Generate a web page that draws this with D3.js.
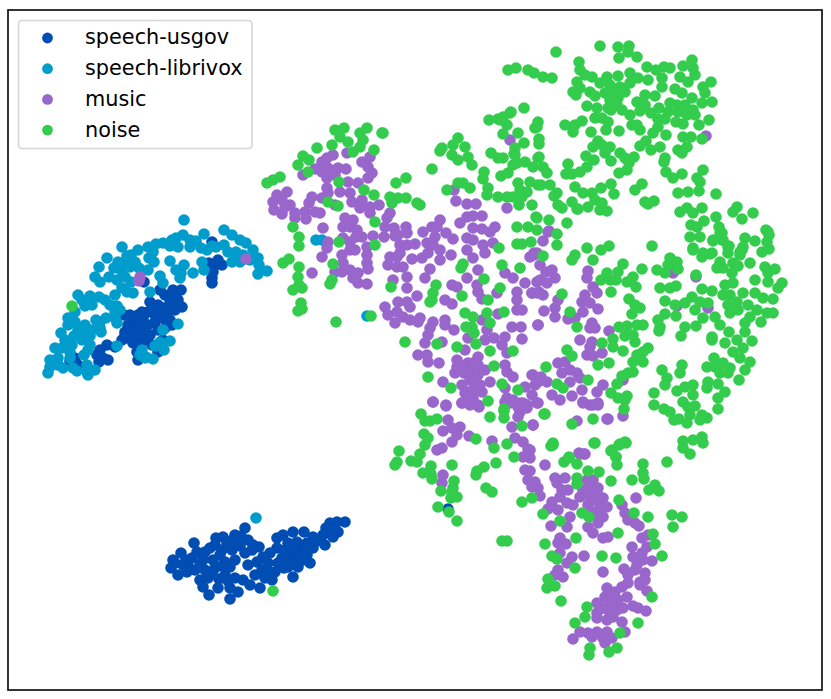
<!DOCTYPE html>
<html><head><meta charset="utf-8">
<script src="https://cdn.jsdelivr.net/npm/d3@7/dist/d3.min.js"></script>
<style>html,body{margin:0;padding:0;background:#fff}svg{display:block}text{font-family:"DejaVu Sans",sans-serif}</style>
</head><body><svg id="c" width="831" height="699"></svg>
<script>
const labels = ["speech-usgov","speech-librivox","music","noise"];
const colors = ["#004DB3","#009DCC","#9966CC","#33CC4D"];
const usgov = [[212,242],[218,260],[209,263],[215,265],[222,265],[213,272],[212,278],[212,283],[144,282],[173,290],[181,290],[178,300],[165,295],[160,290],[170,303],[182,307],[175,310],[168,312],[150,302],[158,305],[148,312],[155,315],[142,312],[130,315],[124,315],[128,325],[135,320],[140,323],[148,325],[155,322],[162,318],[170,320],[165,328],[172,325],[145,330],[150,335],[158,330],[135,330],[125,332],[122,340],[128,338],[135,338],[145,340],[152,345],[163,340],[125,335],[133,343],[140,345],[137,352],[138,360],[158,352],[75,358],[73,366],[70,361],[78,365],[100,350],[107,345],[115,347],[97,355],[103,358],[99,362],[108,360],[143,318],[152,310],[163,308],[175,298],[168,296],[160,312],[147,336],[141,333],[131,327],[138,315],
[345,522],[337,522],[330,523],[326,528],[330,530],[338,532],[323,535],[333,537],[325,545],[313,537],[304,532],[293,532],[283,535],[277,538],[297,542],[307,543],[313,548],[300,550],[290,553],[277,548],[270,553],[263,557],[282,558],[297,558],[307,555],[310,563],[298,567],[288,567],[293,577],[278,563],[268,563],[257,562],[259,547],[245,528],[235,535],[223,537],[216,538],[215,545],[227,543],[237,542],[248,540],[194,543],[205,552],[220,555],[232,550],[245,553],[235,560],[225,562],[213,560],[203,560],[181,553],[173,560],[171,568],[178,575],[183,565],[192,558],[187,572],[195,570],[205,570],[215,568],[200,580],[208,578],[218,588],[209,595],[203,587],[225,575],[235,578],[230,588],[230,599],[238,592],[243,580],[250,585],[260,588],[255,575],[265,578],[272,580],[267,570],[275,572],[285,550],[293,547],[222,550],[230,567],[175,563],[186,560],[197,552],[210,548],[240,546],[252,550],[248,565],[262,570],[241,536],[231,541],[253,545],[222,566],[212,573],[219,579],[228,581],[200,565],[188,566],[284,568],[291,560],[303,560],[317,541],[288,543],[305,548],[448,509]];
const librivox = [[184,220],[224,230],[204,234],[232,235],[240,240],[246,243],[253,250],[258,258],[267,271],[258,274],[259,265],[172,240],[176,238],[183,235],[190,240],[196,241],[201,248],[190,247],[178,247],[170,246],[163,243],[156,244],[148,247],[153,252],[149,258],[154,262],[122,247],[127,256],[138,250],[131,255],[118,262],[125,262],[135,262],[107,258],[99,267],[114,268],[121,270],[130,267],[139,268],[148,270],[170,261],[176,270],[181,273],[184,265],[180,278],[193,273],[202,262],[204,270],[207,250],[216,247],[224,245],[228,252],[236,252],[243,255],[232,262],[240,262],[250,260],[236,258],[212,246],[95,277],[100,282],[109,277],[117,280],[125,277],[122,288],[131,282],[127,292],[160,276],[163,283],[133,293],[150,292],[78,295],[90,296],[92,305],[99,297],[105,300],[115,295],[110,305],[115,312],[106,318],[115,318],[120,310],[85,306],[82,300],[75,312],[117,306],[68,318],[75,322],[85,325],[96,320],[92,330],[100,328],[78,330],[68,325],[74,336],[82,340],[90,345],[100,322],[117,323],[178,324],[117,346],[61,333],[65,340],[72,345],[77,335],[84,333],[90,336],[101,332],[55,348],[62,348],[70,352],[58,358],[84,355],[88,350],[50,360],[48,373],[50,367],[58,365],[63,368],[57,362],[70,358],[73,368],[77,371],[87,365],[88,375],[95,370],[87,372],[163,330],[170,341],[160,342],[164,350],[155,346],[142,350],[145,358],[153,359],[146,357],[140,355],[316,240],[322,240],[256,518],[367,316]];
const music = [[139,281],[140,277],[246,259],[510,140],[347,153],[370,157],[333,155],[327,158],[322,162],[362,162],[368,167],[372,173],[368,178],[303,175],[315,169],[322,172],[328,168],[338,168],[346,169],[327,178],[335,175],[348,182],[358,183],[327,188],[328,193],[340,192],[350,193],[322,198],[312,197],[309,203],[335,205],[352,202],[362,200],[360,208],[370,207],[379,205],[370,213],[390,213],[387,218],[277,195],[287,192],[273,202],[282,200],[290,205],[274,210],[282,214],[285,207],[295,213],[295,218],[305,212],[306,219],[315,212],[320,213],[323,228],[345,218],[353,220],[343,227],[350,227],[357,230],[356,237],[362,237],[373,236],[384,237],[385,227],[394,228],[395,236],[343,238],[328,242],[327,248],[322,257],[350,242],[350,250],[355,250],[367,247],[367,255],[367,263],[368,269],[342,255],[343,263],[335,272],[342,272],[350,270],[358,273],[353,278],[358,283],[367,284],[312,273],[406,227],[407,233],[398,235],[423,232],[432,227],[440,220],[437,227],[446,233],[435,237],[427,243],[433,245],[453,239],[440,250],[467,238],[473,240],[460,223],[467,217],[473,216],[482,216],[473,228],[482,229],[490,232],[495,227],[454,190],[456,201],[467,204],[476,204],[507,208],[400,245],[415,244],[407,245],[400,253],[390,257],[397,257],[388,265],[397,267],[403,267],[407,277],[393,280],[412,259],[422,258],[428,253],[440,260],[451,255],[430,269],[425,278],[407,288],[467,250],[473,258],[478,270],[483,245],[493,243],[485,253],[530,257],[537,253],[452,285],[457,287],[467,278],[477,285],[478,292],[482,299],[497,293],[505,273],[513,278],[525,283],[517,292],[517,300],[532,293],[539,292],[537,282],[522,310],[517,310],[445,300],[452,304],[417,296],[407,302],[398,302],[410,307],[385,307],[388,315],[397,312],[403,317],[395,323],[410,320],[420,318],[418,322],[433,322],[445,320],[445,325],[430,328],[428,335],[454,330],[442,342],[425,343],[418,355],[427,355],[428,362],[439,363],[482,320],[487,330],[498,314],[468,338],[485,340],[494,338],[505,337],[512,327],[521,327],[538,325],[522,339],[502,345],[507,353],[465,350],[505,365],[507,372],[513,377],[457,360],[460,365],[468,363],[478,357],[478,365],[485,370],[470,372],[455,373],[478,375],[462,385],[470,380],[480,385],[490,382],[468,392],[482,392],[473,398],[467,402],[462,403],[478,405],[443,382],[433,402],[446,405],[457,367],[473,363],[464,373],[475,383],[465,393],[473,390],[505,388],[507,398],[513,400],[523,403],[525,387],[532,375],[538,382],[518,407],[706,136],[549,231],[543,241],[534,255],[548,232],[534,253],[540,265],[546,272],[552,270],[555,278],[540,280],[547,283],[532,293],[543,295],[537,293],[558,300],[555,308],[544,311],[555,317],[538,325],[568,319],[575,318],[588,271],[587,278],[593,287],[597,293],[585,295],[582,302],[590,303],[598,309],[583,312],[592,323],[590,328],[595,328],[609,331],[580,340],[592,342],[587,355],[593,356],[602,353],[590,347],[673,273],[696,277],[677,306],[708,308],[558,363],[565,362],[562,373],[570,370],[577,373],[570,382],[580,378],[533,375],[541,377],[547,382],[535,385],[532,395],[552,395],[560,400],[572,396],[582,390],[597,392],[603,385],[583,402],[590,405],[598,403],[538,403],[577,421],[607,419],[623,416],[623,380],[533,425],[580,454],[585,454],[530,450],[433,402],[446,406],[462,403],[470,405],[479,407],[448,420],[443,431],[452,428],[460,427],[457,435],[452,442],[469,436],[437,450],[442,448],[443,475],[442,483],[492,441],[512,427],[533,425],[515,438],[523,442],[528,449],[523,457],[530,458],[545,465],[525,470],[530,471],[528,480],[535,482],[532,487],[538,488],[540,496],[608,419],[579,453],[584,454],[555,478],[565,478],[557,483],[568,490],[562,490],[560,497],[552,502],[548,509],[558,510],[567,503],[573,505],[570,517],[567,527],[551,526],[587,480],[593,480],[583,490],[580,497],[590,488],[598,488],[593,500],[603,498],[588,505],[600,507],[607,507],[593,512],[603,517],[598,523],[588,527],[593,533],[603,538],[608,537],[622,505],[625,513],[628,520],[635,523],[639,526],[636,498],[560,538],[566,544],[558,543],[560,553],[572,557],[567,563],[584,556],[603,572],[558,570],[563,577],[555,575],[632,547],[642,538],[648,535],[647,547],[642,553],[633,557],[652,561],[643,560],[637,565],[624,569],[628,575],[635,570],[645,573],[640,582],[645,580],[628,583],[647,591],[640,585],[622,587],[607,588],[615,592],[627,597],[605,597],[597,603],[610,602],[618,600],[623,608],[633,606],[638,608],[646,611],[608,610],[617,610],[597,613],[597,618],[607,620],[613,617],[622,622],[625,632],[580,632],[588,633],[597,632],[592,637],[573,639],[607,632],[603,638],[612,638],[605,643],[510,403],[520,403],[527,405],[537,403],[520,412],[518,417],[527,408],[505,402],[583,403],[593,405],[598,405],[612,594],[618,605],[603,608],[598,495],[588,495],[596,515]];
const noise = [[72,306],[273,591],[335,130],[344,128],[367,128],[360,133],[340,137],[363,140],[348,142],[332,145],[360,147],[353,152],[382,133],[374,150],[317,148],[303,156],[309,160],[298,165],[308,172],[280,177],[273,180],[267,183],[339,182],[364,190],[374,195],[396,183],[406,178],[432,169],[390,197],[392,203],[398,198],[406,198],[417,203],[420,205],[328,202],[338,206],[375,222],[293,227],[299,237],[299,246],[339,242],[375,245],[283,263],[289,259],[333,264],[299,267],[298,277],[332,280],[330,284],[299,285],[302,288],[293,290],[301,303],[302,309],[298,311],[336,322],[371,316],[391,287],[405,342],[428,377],[432,300],[433,293],[436,285],[430,302],[462,296],[488,300],[487,313],[490,323],[465,313],[473,317],[466,327],[472,327],[474,333],[476,344],[457,347],[437,344],[490,351],[513,351],[494,366],[502,384],[518,390],[488,401],[451,388],[504,409],[504,312],[500,288],[484,279],[520,268],[502,265],[499,248],[463,264],[461,268],[531,242],[522,244],[517,244],[517,227],[528,227],[537,230],[536,217],[489,120],[500,120],[510,113],[507,125],[503,134],[518,133],[524,143],[537,127],[440,151],[442,148],[458,138],[453,145],[465,147],[452,155],[468,157],[458,160],[472,165],[491,153],[498,158],[503,158],[515,148],[515,155],[517,163],[525,162],[533,167],[513,165],[538,158],[484,172],[483,179],[501,176],[508,173],[458,183],[463,183],[447,190],[470,188],[488,188],[487,195],[498,197],[507,197],[518,183],[530,182],[520,190],[527,192],[513,197],[522,197],[519,205],[532,205],[538,185],[556,52],[508,70],[516,68],[528,70],[534,73],[543,77],[552,78],[524,108],[498,119],[503,117],[511,112],[538,122],[535,128],[539,139],[539,144],[565,125],[575,125],[573,132],[539,157],[514,154],[543,167],[547,173],[568,164],[566,174],[572,174],[580,172],[541,185],[550,185],[575,187],[557,193],[554,196],[572,202],[558,205],[562,208],[577,209],[549,220],[537,218],[567,223],[383,133],[600,46],[618,47],[629,46],[628,52],[637,57],[619,58],[579,62],[580,70],[592,77],[585,75],[577,82],[573,92],[580,88],[576,95],[590,92],[595,96],[600,83],[607,77],[618,76],[630,73],[638,78],[630,83],[620,87],[610,85],[605,93],[615,93],[625,92],[610,100],[618,98],[608,108],[597,108],[587,106],[617,105],[611,110],[622,110],[630,115],[595,118],[602,118],[608,122],[606,130],[591,132],[582,121],[619,131],[632,125],[640,130],[637,125],[647,67],[648,80],[656,70],[664,67],[670,68],[662,78],[662,87],[683,66],[692,60],[693,68],[695,75],[680,77],[688,82],[675,89],[682,93],[703,87],[711,82],[705,93],[692,98],[712,102],[702,103],[645,95],[655,96],[637,102],[645,105],[640,111],[651,113],[659,108],[670,103],[677,105],[685,105],[693,110],[668,112],[678,112],[687,115],[695,115],[676,122],[683,124],[699,125],[709,120],[658,119],[665,119],[658,127],[653,133],[666,135],[683,137],[691,137],[702,139],[687,147],[678,150],[682,153],[598,141],[593,147],[602,145],[610,147],[605,153],[611,161],[646,141],[640,146],[651,150],[660,147],[665,158],[664,162],[620,153],[625,158],[634,157],[629,163],[627,170],[619,173],[586,156],[594,160],[587,167],[666,172],[673,178],[682,174],[703,170],[697,178],[700,182],[688,192],[699,191],[678,193],[716,194],[583,193],[611,184],[601,188],[614,194],[592,193],[595,200],[588,207],[600,210],[607,211],[602,203],[578,209],[642,184],[635,190],[645,202],[654,201],[648,204],[680,212],[687,208],[693,213],[702,208],[737,207],[733,212],[753,213],[742,219],[716,217],[704,221],[691,225],[697,227],[719,227],[690,237],[700,237],[722,233],[713,241],[722,240],[745,238],[755,241],[766,230],[769,235],[767,242],[769,249],[728,247],[693,248],[703,253],[712,253],[743,247],[740,252],[762,252],[652,246],[587,248],[609,246],[601,250],[575,255],[572,260],[593,260],[557,234],[557,245],[543,256],[623,264],[607,273],[618,272],[601,280],[610,280],[616,280],[627,282],[642,269],[633,277],[636,287],[611,292],[562,294],[629,299],[635,305],[640,308],[632,314],[570,312],[577,327],[619,327],[627,326],[637,325],[643,325],[625,336],[633,335],[635,342],[613,339],[602,343],[613,347],[623,351],[648,348],[643,352],[637,355],[633,362],[643,362],[609,363],[598,365],[567,350],[572,356],[546,367],[588,380],[633,372],[628,373],[622,376],[617,384],[557,384],[563,388],[611,393],[627,396],[618,398],[625,400],[624,409],[545,414],[593,419],[572,424],[657,270],[665,273],[670,258],[668,265],[677,262],[678,269],[696,275],[660,288],[670,288],[676,286],[665,301],[675,305],[676,316],[665,314],[658,320],[660,327],[659,331],[685,327],[696,326],[681,336],[685,303],[692,297],[702,289],[712,291],[695,310],[703,318],[700,302],[708,303],[715,317],[720,325],[729,332],[712,337],[712,340],[745,332],[761,322],[725,285],[733,283],[723,295],[730,295],[728,305],[737,302],[743,293],[748,305],[755,293],[757,310],[767,313],[773,313],[773,299],[763,298],[750,317],[745,323],[730,313],[738,310],[778,288],[782,283],[768,282],[775,269],[765,267],[755,280],[768,273],[693,250],[702,257],[710,254],[713,240],[723,240],[720,233],[729,246],[728,253],[768,232],[742,250],[740,255],[750,263],[720,262],[717,268],[723,268],[733,263],[732,273],[738,266],[725,343],[737,340],[752,341],[743,348],[733,352],[740,358],[750,362],[745,370],[714,358],[707,367],[715,367],[723,363],[730,368],[720,373],[728,373],[739,380],[718,384],[725,392],[718,398],[718,409],[708,382],[707,388],[662,370],[682,365],[667,378],[665,385],[680,373],[677,391],[685,387],[693,385],[693,395],[654,393],[654,405],[683,402],[695,406],[688,407],[664,409],[670,412],[690,415],[674,420],[679,419],[687,423],[700,420],[707,418],[702,415],[683,441],[693,440],[702,437],[683,448],[690,454],[703,443],[594,443],[625,442],[619,445],[553,445],[612,450],[616,457],[569,457],[421,414],[425,421],[430,421],[437,419],[424,434],[428,438],[425,445],[399,451],[420,454],[397,462],[395,465],[411,461],[417,462],[431,466],[423,473],[431,474],[432,479],[452,465],[454,481],[441,491],[453,488],[452,492],[457,497],[451,498],[438,507],[449,512],[457,521],[490,417],[504,411],[504,418],[476,439],[494,448],[507,444],[514,457],[496,463],[484,467],[477,471],[476,475],[486,488],[492,492],[522,502],[532,498],[522,426],[544,414],[553,443],[551,446],[595,443],[620,444],[626,443],[611,451],[616,457],[617,465],[564,462],[569,458],[577,464],[588,471],[599,472],[577,478],[577,484],[611,481],[632,480],[643,464],[643,473],[644,479],[667,462],[649,490],[655,485],[659,491],[619,500],[634,513],[648,517],[672,515],[682,517],[673,527],[618,533],[653,534],[655,544],[662,556],[543,514],[560,521],[582,513],[589,517],[576,538],[545,544],[552,556],[557,559],[575,568],[602,556],[616,558],[548,579],[555,586],[547,588],[561,601],[652,597],[587,607],[585,617],[575,623],[638,623],[620,633],[590,648],[617,648],[609,652],[589,655],[502,541],[507,541]];
const seriesData = [usgov, librivox, music, noise];

const x = d3.scaleLinear().domain([8,822]).range([8,822]);
const y = d3.scaleLinear().domain([10,690]).range([10,690]);
const svg = d3.select("#c");
const dotR = 5.8;
labels.forEach((name,i)=>{
  svg.append("g").attr("class","series").attr("fill",colors[i])
    .selectAll("circle").data(seriesData[i]).join("circle")
    .attr("cx",d=>x(d[0])).attr("cy",d=>y(d[1])).attr("r",dotR);
});
svg.append("rect").attr("x",x.range()[0]).attr("y",y.range()[0])
  .attr("width",x.range()[1]-x.range()[0]).attr("height",y.range()[1]-y.range()[0])
  .attr("fill","none").attr("stroke","#111").attr("stroke-width",1.7);
const lg = svg.append("g");
lg.append("rect").attr("x",18.5).attr("y",20.5).attr("width",233.5).attr("height",128)
  .attr("rx",3.5).attr("fill","#fff").attr("fill-opacity",0.8).attr("stroke","#d5d5d5").attr("stroke-width",1.6);
const rows = lg.selectAll("g").data(labels).join("g")
  .attr("transform",(d,i)=>`translate(0,${38+i*30.7})`);
rows.append("circle").attr("cx",47.5).attr("r",5.4).attr("fill",(d,i)=>colors[i]);
rows.append("text").attr("x",85).attr("y",6.4).attr("font-size",20.8).attr("fill","#000").text(d=>d);
</script></body></html>
